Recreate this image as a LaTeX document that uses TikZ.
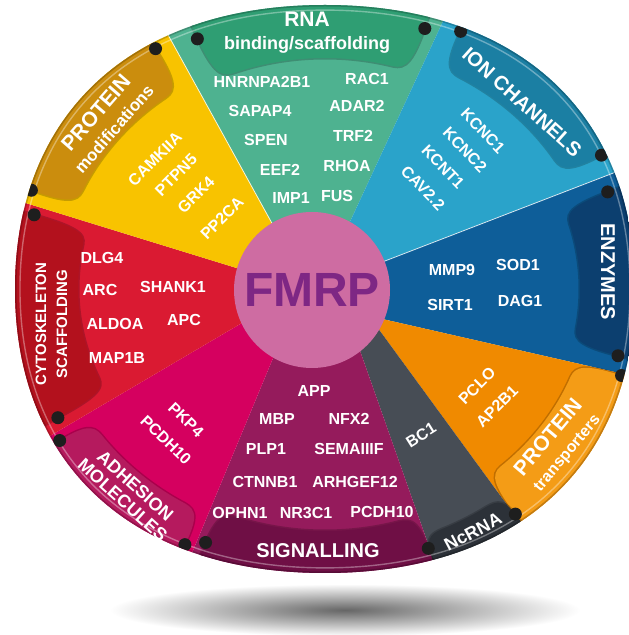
\documentclass[tikz,border=0pt]{standalone}
\usepackage{fontspec}
\setmainfont{Liberation Sans}
\usetikzlibrary{calc}
\definecolor{secRNA}{HTML}{4EB290}
\definecolor{tabRNA}{HTML}{2F9E73}
\definecolor{secION}{HTML}{2AA3CA}
\definecolor{tabION}{HTML}{1B7FA3}
\definecolor{secENZ}{HTML}{0E5E99}
\definecolor{tabENZ}{HTML}{0C3F6F}
\definecolor{secPT}{HTML}{F08A00}
\definecolor{tabPT}{HTML}{F49C16}
\definecolor{secNC}{HTML}{474D55}
\definecolor{tabNC}{HTML}{2C3138}
\definecolor{secSIG}{HTML}{951B5C}
\definecolor{tabSIG}{HTML}{6F0F45}
\definecolor{secADH}{HTML}{D5005F}
\definecolor{tabADH}{HTML}{B51A5E}
\definecolor{secCYTO}{HTML}{DA1A32}
\definecolor{tabCYTO}{HTML}{B3111D}
\definecolor{secMOD}{HTML}{F8C300}
\definecolor{tabMOD}{HTML}{CB8D0D}
\definecolor{fmrpFill}{HTML}{CE6CA2}
\definecolor{fmrpText}{HTML}{7E2784}
\definecolor{nubcol}{HTML}{1E1E1E}
\tikzset{
		>=stealth,
		item/.style={text=white, font=\bfseries\fontsize{16}{18}\selectfont, inner sep=0pt},
		tabtitle/.style={text=white, font=\bfseries\fontsize{18}{23}\selectfont, align=center, inner sep=0pt}
	}
\newcommand{\wheeloutline}{(635,346) .. controls (635,522.1) and (517.2,630) .. (325,630)
	.. controls (132.8,630) and (15,522.1) .. (15,346)
	.. controls (15,169.9) and (132.8,62) .. (325,62)
	.. controls (517.2,62) and (635,169.9) .. (635,346) -- cycle}

\begin{document}
\begin{tikzpicture}[x=1pt, y=1pt]
		\useasboundingbox (0,0) rectangle (629,635);
		\fill[white] (0,0) rectangle (629,635);
		\shade[inner color=black!60, outer color=white] (345,25) ellipse [x radius=235, y radius=26];
		\coordinate (O) at (325,346);
		\coordinate (C) at (312,345);
		\foreach \n/\px/\py/\ang in {1/172/593/121, 2/438/603/60.8, 3/603/458/21.7, 4/615/263/-22.4, 5/513/122/-30,
									6/432/80/-51.3, 7/192/82/-120, 8/55/202/-154.9, 9/32/430/163.8}{
			\coordinate (in\n) at ($(C)+(\ang:76)$);
			\coordinate (out\n) at ($(in\n)!1.6!(\px,\py)$);
		}
		\begin{scope}
			\clip \wheeloutline;
			\fill[secRNA] (C) -- (in1) -- (out1) -- (out2) -- (in2) -- cycle;
			\fill[secION] (C) -- (in2) -- (out2) -- (out3) -- (in3) -- cycle;
			\fill[secENZ] (C) -- (in3) -- (out3) -- (out4) -- (in4) -- cycle;
			\fill[secPT] (C) -- (in4) -- (out4) -- (out5) -- (in5) -- cycle;
			\fill[secNC] (C) -- (in5) -- (out5) -- (out6) -- (in6) -- cycle;
			\fill[secSIG] (C) -- (in6) -- (out6) -- (out7) -- (in7) -- cycle;
			\fill[secADH] (C) -- (in7) -- (out7) -- (out8) -- (in8) -- cycle;
			\fill[secCYTO] (C) -- (in8) -- (out8) -- (out9) -- (in9) -- cycle;
			\fill[secMOD] (C) -- (in9) -- (out9) -- (out1) -- (in1) -- cycle;
			\draw[white, opacity=0.8, line width=0.8] (in1) -- (out1) (in3) -- (out3);
			\foreach \angS/\angE/\dd/\ff/\col in {115.0/70.7/53/1.0/tabRNA, 64.3/27.9/50/1.035/tabION, 20.6/-14.0/55/1.0/tabENZ,
												-17.7/-52.3/55/1.03/tabPT, -52.3/-70.0/30/1.03/tabNC, -70.0/-113.3/42/1.0/tabSIG,
												-116.6/-148.0/45/1.035/tabADH, -152.2/-195.6/63/1.0/tabCYTO, 159.8/122.8/55/1.035/tabMOD}{
				\pgfmathsetmacro{\tabrx}{\ff*310-\dd}
				\pgfmathsetmacro{\tabry}{\ff*284-\dd}
				\pgfmathsetmacro{\rimrx}{\ff*310-8}
				\pgfmathsetmacro{\rimry}{\ff*284-8}
				\pgfmathsetmacro{\aS}{\angS-5}
				\pgfmathsetmacro{\aE}{\angE+5}
				\fill[\col, preaction={draw=black, draw opacity=0.2, line width=3}]
					($(O)+({400*cos(\angS)},{380*sin(\angS)})$) -- ($(O)+({\rimrx*cos(\angS)},{\rimry*sin(\angS)})$)
					.. controls ($(O)+({\tabrx*cos(\angS)},{\tabry*sin(\angS)})$) and ($(O)+({\tabrx*cos(\angS-2)},{\tabry*sin(\angS-2)})$)
					.. ($(O)+({\tabrx*cos(\aS)},{\tabry*sin(\aS)})$)
					arc[start angle=\aS, end angle=\aE, x radius=\tabrx, y radius=\tabry]
					.. controls ($(O)+({\tabrx*cos(\angE+2)},{\tabry*sin(\angE+2)})$) and ($(O)+({\tabrx*cos(\angE)},{\tabry*sin(\angE)})$)
					.. ($(O)+({\rimrx*cos(\angE)},{\rimry*sin(\angE)})$) -- ($(O)+({400*cos(\angE)},{380*sin(\angE)})$) -- cycle;
			}
			\begin{scope}[shift={(325,346)}, xscale=0.984, yscale=0.982, shift={(-325,-346)}]
				\draw[white, opacity=0.35, line width=1.4] \wheeloutline;
			\end{scope}
			\draw[black, opacity=0.2, line width=3] \wheeloutline;
			\foreach \a/\ff in {115.0/1, 70.7/1, 64.3/1.035, 27.9/1.035, 20.6/1, -14.0/1, -17.7/1.03, -52.3/1.03, -70.0/1,
								-113.3/1, -116.6/1.035, -148.0/1.035, -152.2/1, 164.4/1, 159.8/1.035, 122.8/1.035}{
				\fill[nubcol] ($(O)+({(\ff*310-8)*cos(\a)},{(\ff*284-8)*sin(\a)})$) circle (6.5);
			}
		\end{scope}
		\node[circle, fill=fmrpFill, minimum size=156pt, inner sep=0pt, text=fmrpText,
			  font=\bfseries\fontsize{48}{50}\selectfont] (fmrp) at (C) {FMRP};
		\node[tabtitle] (rnaT) at (307,602) {{\fontsize{21}{22}\selectfont RNA}\\binding/scaffolding};
		\node[tabtitle, rotate=49] (modT) at (104.5,514.5) {{\fontsize{21}{22}\selectfont PROTEIN}\\{\fontsize{17}{22}\selectfont modifications}};
		\node[tabtitle, rotate=-42, font=\bfseries\fontsize{20}{22}\selectfont] (ionT) at (522,533) {ION CHANNELS};
		\node[tabtitle, rotate=-90, font=\bfseries\fontsize{20}{22}\selectfont] (enzT) at (608,363) {ENZYMES};
		\node[tabtitle, rotate=50] (ptT) at (557.5,190) {{\fontsize{21}{22}\selectfont PROTEIN}\\{\fontsize{16}{22}\selectfont transporters}};
		\node[tabtitle, rotate=28] (ncT) at (473,103) {NcRNA};
		\node[tabtitle, font=\bfseries\fontsize{20}{22}\selectfont] (sigT) at (318,84) {SIGNALLING};
		\node[tabtitle, rotate=-42, font=\bfseries\fontsize{18}{19}\selectfont] (adhT) at (129,142) {ADHESION\\MOLECULES};
		\node[tabtitle, rotate=90, font=\bfseries\fontsize{15}{21}\selectfont] (cytoT) at (51.5,311) {CYTOSKELETON\\SCAFFOLDING};
		\node[item] (hnrnpa) at (262,553) {HNRNPA2B1};
		\node[item] (rac) at (367,556) {RAC1};
		\node[item] (sapap) at (260,524) {SAPAP4};
		\node[item] (adar) at (357,529) {ADAR2};
		\node[item] (spen) at (266,495) {SPEN};
		\node[item] (trf) at (353,499) {TRF2};
		\node[item] (eef) at (280,465) {EEF2};
		\node[item] (rhoa) at (347,469) {RHOA};
		\node[item] (imp) at (291,437) {IMP1};
		\node[item] (fus) at (337,439) {FUS};
		\node[item, rotate=45] (camk) at (155,476) {CAMKIIA};
		\node[item, rotate=45] (ptpn) at (176,460) {PTPN5};
		\node[item, rotate=45] (grk) at (196,440) {GRK4};
		\node[item, rotate=45] (ppca) at (222,417) {PP2CA};
		\node[item, rotate=-46] (kcncA) at (483,504) {KCNC1};
		\node[item, rotate=-46] (kcncB) at (465,485) {KCNC2};
		\node[item, rotate=-46] (kcnt) at (443,468) {KCNT1};
		\node[item, rotate=-46] (cav) at (423,447) {CAV2.2};
		\node[item] (mmp) at (452,365) {MMP9};
		\node[item] (sod) at (518,370) {SOD1};
		\node[item] (sirt) at (450,330) {SIRT1};
		\node[item] (dag) at (520,334) {DAG1};
		\node[item, rotate=45] (pclo) at (477,249) {PCLO};
		\node[item, rotate=45] (apb) at (497,229) {AP2B1};
		\node[item, rotate=32] (bc) at (421,200) {BC1};
		\node[item] (app) at (314,244) {APP};
		\node[item] (mbp) at (277,216) {MBP};
		\node[item] (nfx) at (349,216) {NFX2};
		\node[item] (plp) at (266,186) {PLP1};
		\node[item] (sema) at (349,186) {SEMAIIIF};
		\node[item] (ctnnb) at (265,153) {CTNNB1};
		\node[item] (arhgef) at (355,153) {ARHGEF12};
		\node[item] (ophn) at (240,122) {OPHN1};
		\node[item] (nrc) at (306,122) {NR3C1};
		\node[item] (pcdhS) at (382,123) {PCDH10};
		\node[item, rotate=-44] (pkp) at (186,215) {PKP4};
		\node[item, rotate=-44] (pcdhA) at (166,195) {PCDH10};
		\node[item] (dlg) at (102,377) {DLG4};
		\node[item] (arcp) at (100,345) {ARC};
		\node[item] (shank) at (173,348) {SHANK1};
		\node[item] (aldoa) at (115,311) {ALDOA};
		\node[item] (apc) at (184,315) {APC};
		\node[item] (map) at (117,277) {MAP1B};
	\end{tikzpicture}
\end{document}
